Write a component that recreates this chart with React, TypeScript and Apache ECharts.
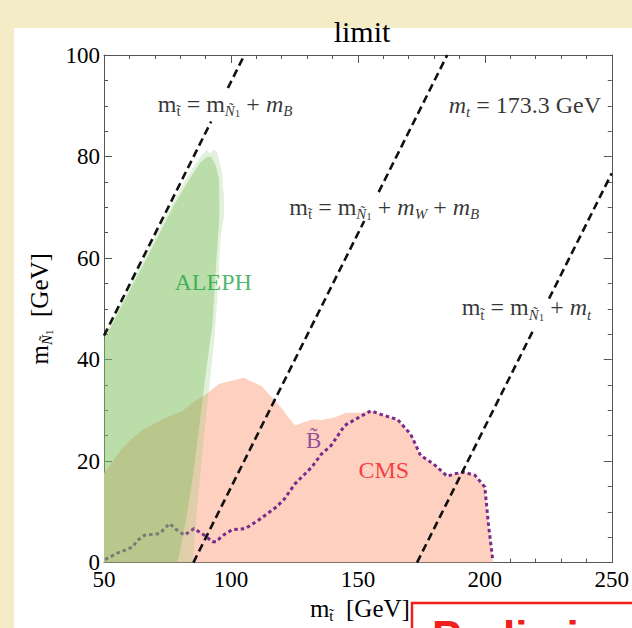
import React, { useEffect, useRef } from "react";
import * as echarts from "echarts";

const SERIF = "'Liberation Serif', 'DejaVu Serif', serif";
const SANS = "'Liberation Sans', Arial, sans-serif";

// Axis ranges / ticks
const xRange = [50, 250];
const yRange = [0, 100];
const xStep = 50;
const yStep = 20;

// CMS excluded region (pink)
const cmsRegion: number[][] = [
  [50, 0], [50, 17.6], [57.4, 22.7], [64.7, 26], [74.5, 28.6], [81, 29.9], [84.8, 31.5],
  [90, 33.1], [95.3, 35.2], [105, 36.4], [112, 34.8], [118.7, 31.2], [125.2, 27],
  [131.8, 28.2], [135.6, 28.1], [140.8, 28.6], [145.3, 29.5], [151.2, 29.5], [155.1, 29.9],
  [159, 29.2], [162.9, 28.6], [165.6, 28.2], [170.8, 25.3], [174.7, 21.1], [179.9, 19.4],
  [185.2, 17], [188, 17.5], [191.7, 17.8], [196.1, 17.2], [200, 14.9], [201.4, 7.7],
  [203.1, 0.6], [203.3, 0],
];

// ALEPH outer (light green) region
const alephOuter: number[][] = [
  [50, 0], [50, 44.6], [60, 54.4], [70, 64.2], [78, 71.8], [84, 77], [88, 80], [90.5, 81.3],
  [91.8, 80.6], [93.2, 81.4], [94.6, 80.8], [96.2, 77.5], [97.3, 72], [97.3, 68.4], [96, 64.4],
  [94.6, 52], [93.5, 44], [92.2, 38], [90.2, 29], [88, 18], [86.5, 10], [84.9, 0],
];

// ALEPH main (green) region
const alephMain: number[][] = [
  [50, 0], [50, 43.8], [60, 53.5], [70, 63], [78, 70.8], [84, 75.8], [88, 78.8], [90.5, 79.9],
  [92.2, 79.9], [94, 78.3], [95.3, 75.5], [95.5, 70], [95.3, 67], [94, 57.3], [92.7, 46.8],
  [90.8, 40], [88.3, 30], [85.3, 18], [82.2, 8], [79, 0],
];

// Bino line (purple dotted)
const binoLine: number[][] = [
  [50.4, 0.6], [55, 1.8], [61.4, 3.1], [63, 4.3], [66, 5.4], [71.9, 5.7], [75.8, 7.7],
  [78.5, 6.5], [81.6, 5.4], [85.5, 6.7], [89.5, 5.4], [92.7, 4.1], [94.1, 4.1], [97, 5.4],
  [100.5, 6.5], [105.7, 6.7], [111, 8.4], [118, 11], [121, 12.5], [125.2, 15.5], [131.8, 18.8],
  [135.7, 21.4], [139.5, 23.1], [144.8, 27], [150, 28.5], [155.1, 29.9], [159, 29.2],
  [162.9, 28.6], [165.6, 28.2], [170.8, 25.3], [174.7, 21.1], [179.9, 19.4], [185.2, 17],
  [188, 17.5], [191.7, 17.8], [196.1, 17.2], [200, 14.9], [201.4, 7.7], [203.1, 0.6],
];

// Kinematic lines (dashed), each split where its label sits
const lineBLow: number[][] = [[50, 44.7], [92.2, 86.9]];
const lineBHigh: number[][] = [[98.8, 93.5], [105.3, 100]];
const lineWBLow: number[][] = [[85.2, 0], [152.5, 67.3]];
const lineWBHigh: number[][] = [[158.2, 73], [185.2, 100]];
const lineTLow: number[][] = [[173.3, 0], [219.5, 46.2]];
const lineTHigh: number[][] = [[225.3, 52], [250, 76.7]];

// Label anchor points
const labelBPos = [97.7, 90.4];
const labelMtPos = [215.8, 90.2];
const labelWBPos = [160.4, 70.1];
const labelTPos = [216.4, 50.3];
const alephPos = [93, 55.2];
const cmsPos = [160.2, 18.2];
const binoPos = [132.6, 24];

const INK = "#000";

const rich = {
  n: { fontSize: 24, lineHeight: 30, fontFamily: SERIF, color: INK },
  i: { fontSize: 24, lineHeight: 30, fontFamily: SERIF, color: INK, fontStyle: "italic" },
  s: { fontSize: 15, lineHeight: 13, fontFamily: SERIF, color: INK, verticalAlign: "bottom" },
  si: { fontSize: 15, lineHeight: 13, fontFamily: SERIF, color: INK, fontStyle: "italic", verticalAlign: "bottom" },
  ss: { fontSize: 11, lineHeight: 8, fontFamily: SERIF, color: INK, verticalAlign: "bottom" },
};

const nameRich = {
  n: { fontSize: 25, lineHeight: 30, fontFamily: SERIF, color: INK },
  s: { fontSize: 15, lineHeight: 13, fontFamily: SERIF, color: INK, verticalAlign: "bottom" },
  si: { fontSize: 15, lineHeight: 13, fontFamily: SERIF, color: INK, fontStyle: "italic", verticalAlign: "bottom" },
  ss: { fontSize: 11, lineHeight: 8, fontFamily: SERIF, color: INK, verticalAlign: "bottom" },
};

const T = "t\u0303";

function polySeries(pts: number[][], fill: string, z: number) {
  return {
    type: "custom",
    z,
    silent: true,
    clip: true,
    data: pts,
    encode: { x: 0, y: 1 },
    renderItem: (params: any, api: any) => {
      if (params.dataIndex !== 0) return null;
      const points = pts.map((p) => api.coord(p));
      return { type: "polygon", shape: { points }, style: { fill, lineWidth: 0 } };
    },
  };
}

function dashed(data: number[][]) {
  return {
    type: "line",
    data,
    symbol: "none",
    z: 5,
    silent: true,
    lineStyle: { color: "#111", width: 2.6, type: [8, 4.5] },
  };
}

function textSeries(pos: number[], formatter: string, extra: any = {}) {
  return {
    type: "scatter",
    symbolSize: 0,
    z: 10,
    silent: true,
    data: [pos],
    label: {
      show: true,
      position: "inside",
      formatter,
      rich,
      ...extra,
    },
  };
}

const axisColor = "#555";

function xAxisDef(pos: "bottom" | "top", labels: boolean) {
  return {
    type: "value",
    position: pos,
    min: xRange[0],
    max: xRange[1],
    interval: xStep,
    axisLine: { show: true, onZero: false, lineStyle: { color: axisColor, width: 1 } },
    axisTick: { show: true, inside: true, length: 8, lineStyle: { color: axisColor } },
    minorTick: { show: true, splitNumber: 5, length: 4, lineStyle: { color: axisColor } },
    splitLine: { show: false },
    minorSplitLine: { show: false },
    axisLabel: { show: labels, fontSize: 23, fontFamily: SERIF, color: INK, margin: 5 },
    ...(labels
      ? {
          name: `{n|m}{s|${T}}{n|  [GeV]}`,
          nameLocation: "middle",
          nameGap: 30,
          nameTextStyle: { rich: nameRich, padding: [0, 0, 0, 4] },
        }
      : {}),
  };
}

function yAxisDef(pos: "left" | "right", labels: boolean) {
  return {
    type: "value",
    position: pos,
    min: yRange[0],
    max: yRange[1],
    interval: yStep,
    axisLine: { show: true, onZero: false, lineStyle: { color: axisColor, width: 1 } },
    axisTick: { show: true, inside: true, length: 8, lineStyle: { color: axisColor } },
    minorTick: { show: true, splitNumber: 4, length: 4, lineStyle: { color: axisColor } },
    splitLine: { show: false },
    minorSplitLine: { show: false },
    axisLabel: { show: labels, fontSize: 23, fontFamily: SERIF, color: INK, margin: 4 },
    ...(labels
      ? {
          name: "{n|m}{si|Ñ}{ss|1}{n|  [GeV]}",
          nameLocation: "middle",
          nameGap: 46,
          nameRotate: 90,
          nameTextStyle: { rich: nameRich },
        }
      : {}),
  };
}

export default function App() {
  const ref = useRef<HTMLDivElement>(null);
  useEffect(() => {
    if (!ref.current) return;
    const chart = echarts.init(ref.current, undefined, { renderer: "svg" });
    chart.setOption({
      animation: false,
      backgroundColor: "#f4ecc7",
      title: {
        text: "limit",
        left: 357,
        top: 11,
        textAlign: "center",
        textStyle: { fontSize: 30, fontWeight: "normal", fontFamily: SERIF, color: INK },
      },
      grid: { left: 104, top: 55, right: 16, bottom: 62, containLabel: false },
      xAxis: [xAxisDef("bottom", true), xAxisDef("top", false)],
      yAxis: [yAxisDef("left", true), yAxisDef("right", false)],
      graphic: [
        {
          type: "rect",
          z: -10,
          silent: true,
          shape: { x: 14, y: 28, width: 640, height: 620 },
          style: { fill: "#ffffff" },
        },
        {
          type: "rect",
          z: 100,
          silent: true,
          shape: { x: 412, y: 603, width: 240, height: 60 },
          style: { fill: "#ffffff", stroke: "#f2201a", lineWidth: 2.5 },
        },
        {
          type: "text",
          z: 101,
          silent: true,
          x: 432,
          y: 614,
          style: {
            text: "Preliminary",
            fill: "#f2201a",
            fontSize: 44,
            fontWeight: "bold",
            fontFamily: SANS,
            align: "left",
            verticalAlign: "top",
          },
        },
      ],
      series: [
        polySeries(cmsRegion, "#fdd0bf", 1),
        {
          type: "line",
          data: binoLine,
          symbol: "none",
          z: 2,
          silent: true,
          lineStyle: { color: "#7a2a8c", width: 3, type: [3.5, 3] },
        },
        polySeries(alephOuter, "rgba(140,200,110,0.25)", 3),
        polySeries(alephMain, "rgba(120,190,90,0.38)", 4),
        dashed(lineBLow),
        dashed(lineBHigh),
        dashed(lineWBLow),
        dashed(lineWBHigh),
        dashed(lineTLow),
        dashed(lineTHigh),
        textSeries(labelBPos, `{n|m}{s|${T}}{n| = m}{si|Ñ}{ss|1}{n| + }{i|m}{si|B}`),
        textSeries(labelMtPos, "{i|m}{si|t}{n| = 173.3 GeV}"),
        textSeries(
          labelWBPos,
          `{n|m}{s|${T}}{n| = m}{si|Ñ}{ss|1}{n| + }{i|m}{si|W}{n| + }{i|m}{si|B}`
        ),
        textSeries(labelTPos, `{n|m}{s|${T}}{n| = m}{si|Ñ}{ss|1}{n| + }{i|m}{si|t}`),
        textSeries(alephPos, "ALEPH", {
          rich: undefined,
          color: "#1fa545",
          fontSize: 24,
          fontFamily: SERIF,
        }),
        textSeries(cmsPos, "CMS", {
          rich: undefined,
          color: "#f5141e",
          fontSize: 24,
          fontFamily: SERIF,
        }),
        textSeries(binoPos, "B\u0303", {
          rich: undefined,
          color: "#7a2a8c",
          fontSize: 23,
          fontFamily: SERIF,
        }),
      ],
    });
    return () => chart.dispose();
  }, []);
  return (
    <div style={{ position: "fixed", left: 0, top: 0, width: 632, height: 628 }}>
      <div ref={ref} style={{ width: 632, height: 628 }} />
    </div>
  );
}
